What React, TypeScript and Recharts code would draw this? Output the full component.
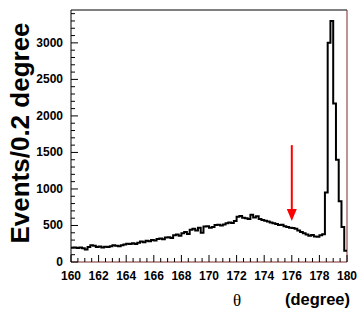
import { LineChart, Line, XAxis, YAxis, ReferenceLine } from 'recharts';

// histogram: 0.2 degree bins from 160 to 180
const binStart = 160;
const binWidth = 0.2;
const counts = [
  195, 200, 192, 198, 188, 172, 205, 228, 222, 205,
  212, 200, 210, 205, 215, 228, 222, 215, 230, 238,
  250, 245, 255, 248, 265, 280, 272, 290, 285, 300,
  295, 315, 322, 310, 335, 340, 330, 365, 378, 360,
  395, 410, 385, 440, 455, 430, 470, 400, 485, 490,
  470, 478, 505, 510, 500, 515, 530, 540, 535, 560,
  620, 630, 605, 600, 590, 648, 610, 625, 590, 575,
  565, 555, 540, 530, 520, 505, 510, 490, 480, 470,
  465, 455, 430, 410, 395, 375, 360, 370, 350, 345,
  365, 380, 950, 3000, 3300, 2170, 1400, 830, 480, 155,
];

const xMajorTicks = [160, 162, 164, 166, 168, 170, 172, 174, 176, 178, 180];
const xMinorStep = 0.5;
const yMajorTicks = [0, 500, 1000, 1500, 2000, 2500, 3000];
const yMinorStep = 100;
const yMax = 3450;

// red arrow marking the cut
const arrowX = 176;
const arrowFrom = 1600;
const arrowTo = 560;

const data = counts.map((c, i) => ({ theta: binStart + i * binWidth, events: c }));
data.push({ theta: binStart + counts.length * binWidth, events: counts[counts.length - 1] });

const xTicks: number[] = [];
for (let v = xMajorTicks[0]; v <= xMajorTicks[xMajorTicks.length - 1] + 1e-9; v += xMinorStep) xTicks.push(v);
const yTicks: number[] = [];
for (let v = 0; v < yMax; v += yMinorStep) yTicks.push(v);

const font = '"Liberation Sans", Arial, sans-serif';

const XTick = (props: any) => {
  const { x, y, payload } = props;
  const major = xMajorTicks.some((t) => Math.abs(t - payload.value) < 1e-6);
  return (
    <g>
      <line x1={x} y1={y} x2={x} y2={y - (major ? 7 : 4)} stroke="#000" />
      {major && (
        <text x={x} y={y + 18} textAnchor="middle" fontFamily={font} fontWeight="bold" fontSize={12} fill="#000">
          {Math.round(payload.value)}
        </text>
      )}
    </g>
  );
};

const YTick = (props: any) => {
  const { x, y, payload } = props;
  const major = yMajorTicks.includes(payload.value);
  return (
    <g>
      <line x1={x} y1={y} x2={x + (major ? 7 : 4)} y2={y} stroke="#000" />
      {major && (
        <text x={x - 8} y={y + 4} textAnchor="end" fontFamily={font} fontWeight="bold" fontSize={12} fill="#000">
          {payload.value}
        </text>
      )}
    </g>
  );
};

const Arrow = (props: any) => {
  const { x1, y1, y2 } = props;
  const head = 12;
  return (
    <g>
      <line x1={x1} y1={y1} x2={x1} y2={y2 - head + 2} stroke="#ff0000" strokeWidth={2} />
      <polygon points={`${x1 - 5},${y2 - head} ${x1 + 5},${y2 - head} ${x1},${y2}`} fill="#ff0000" />
    </g>
  );
};

export default function App() {
  return (
    <div style={{ position: 'absolute', left: 0, top: 0, width: 357, height: 314 }}>
      <LineChart width={357} height={314} data={data} margin={{ top: 10, right: 10, bottom: 0, left: 0 }}>
        <XAxis
          dataKey="theta"
          type="number"
          domain={[160, 180]}
          ticks={xTicks}
          interval={0}
          height={52}
          tickSize={0}
          tickMargin={0}
          tickLine={false}
          tick={<XTick />}
          axisLine={{ stroke: '#7a2a2a', strokeWidth: 1 }}
          label={{
            content: (p: any) => {
              const vb = p.viewBox;
              return (
                <g>
                  <text x={vb.x + 166} y={vb.y + 44} textAnchor="middle" fontFamily='"Liberation Serif", "Times New Roman", serif' fontSize={17} fill="#000">
                    θ
                  </text>
                  <text x={vb.x + vb.width + 3} y={vb.y + 43} textAnchor="end" fontFamily={font} fontWeight="bold" fontSize={16.5} fill="#000">
                    (degree)
                  </text>
                </g>
              );
            },
          }}
        />
        <YAxis
          type="number"
          domain={[0, yMax]}
          allowDataOverflow
          ticks={yTicks}
          interval={0}
          width={71}
          tickSize={0}
          tickMargin={0}
          tickLine={false}
          tick={<YTick />}
          axisLine={{ stroke: '#000', strokeWidth: 1 }}
          label={{
            content: (p: any) => {
              const vb = p.viewBox;
              const cx = vb.x + 29;
              const cy = vb.y + vb.height / 2 - 3;
              return (
                <text x={cx} y={cy} transform={`rotate(-90, ${cx}, ${cy})`} textAnchor="middle" fontFamily={font} fontWeight="bold" fontSize={26} fill="#000">
                  Events/0.2 degree
                </text>
              );
            },
          }}
        />
        <ReferenceLine y={yMax} stroke="#000" />
        <ReferenceLine x={180} stroke="#7a2a2a" />
        <ReferenceLine
          segment={[{ x: arrowX, y: arrowFrom }, { x: arrowX, y: arrowTo }]}
          shape={<Arrow />}
        />
        <Line
          type="stepAfter"
          dataKey="events"
          stroke="#000"
          strokeWidth={2}
          dot={false}
          isAnimationActive={false}
        />
      </LineChart>
    </div>
  );
}
